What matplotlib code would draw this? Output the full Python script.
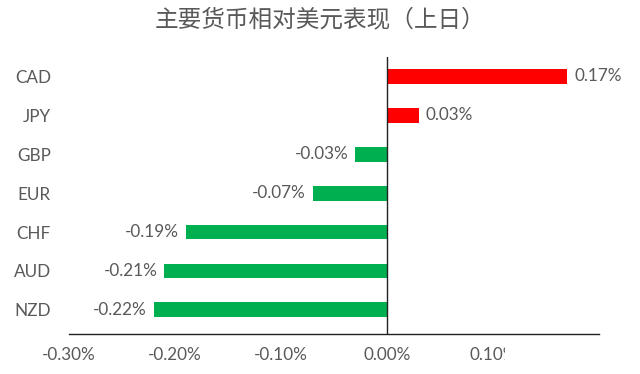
import matplotlib
matplotlib.use("Agg")
import matplotlib.pyplot as plt
from matplotlib.patches import Rectangle

plt.rcParams['font.family'] = ['Lato', 'Noto Sans CJK SC', 'DejaVu Sans']

currencies = ["CAD", "JPY", "GBP", "EUR", "CHF", "AUD", "NZD"]
values = [0.17, 0.03, -0.03, -0.07, -0.19, -0.21, -0.22]
xticks = [-0.30, -0.20, -0.10, 0.00, 0.10]
xtick_labels = ["-0.30%", "-0.20%", "-0.10%", "0.00%", "0.10%"]
title = "主要货币相对美元表现（上日）"

pos_color = "#FF0000"
neg_color = "#00B050"
text_color = "#595959"
fs = 12.3

fig = plt.figure(figsize=(6.4, 3.74), dpi=100)
ax = fig.add_axes([69/640, 1-334/374, (599-69)/640, (334-57)/374])

ypos = list(range(len(currencies)))[::-1]
colors = [pos_color if v >= 0 else neg_color for v in values]
ax.barh(ypos, values, height=0.38, color=colors, zorder=2)

for y, v in zip(ypos, values):
    if v >= 0:
        ax.annotate(f"{v:.2f}%", (v, y), xytext=(5, 0), textcoords="offset points",
                    ha="left", va="center", fontsize=fs, color=text_color)
    else:
        ax.annotate(f"{v:.2f}%", (v, y), xytext=(-5, 0), textcoords="offset points",
                    ha="right", va="center", fontsize=fs, color=text_color)

ax.set_xlim(-0.30, 0.20)
ax.set_ylim(-0.62, len(currencies) - 0.5)
ax.axvline(0, color="#222222", lw=1.0, zorder=3)

ax.set_yticks(ypos)
ax.set_yticklabels(currencies, fontsize=fs, color=text_color)
ax.tick_params(axis="y", length=0, pad=13)
ax.set_xticks(xticks)
ax.set_xticklabels(xtick_labels, fontsize=fs, color=text_color)
ax.tick_params(axis="x", length=0, pad=9)

for s in ["top", "right", "left"]:
    ax.spines[s].set_visible(False)
ax.spines["bottom"].set_color("#222222")
ax.spines["bottom"].set_linewidth(1.0)

fig.text(0.5, 1-20/374, title, ha="center", va="center", fontsize=17,
         color=text_color, family=["Noto Sans CJK SC", "DejaVu Sans"])

# the reference's last tick label is clipped at the right
fig.patches.append(Rectangle((505/640, 0), 135/640, 30/374, transform=fig.transFigure,
                             facecolor="white", edgecolor="none", zorder=10))

fig.savefig("out.png", dpi=100, facecolor="white")
